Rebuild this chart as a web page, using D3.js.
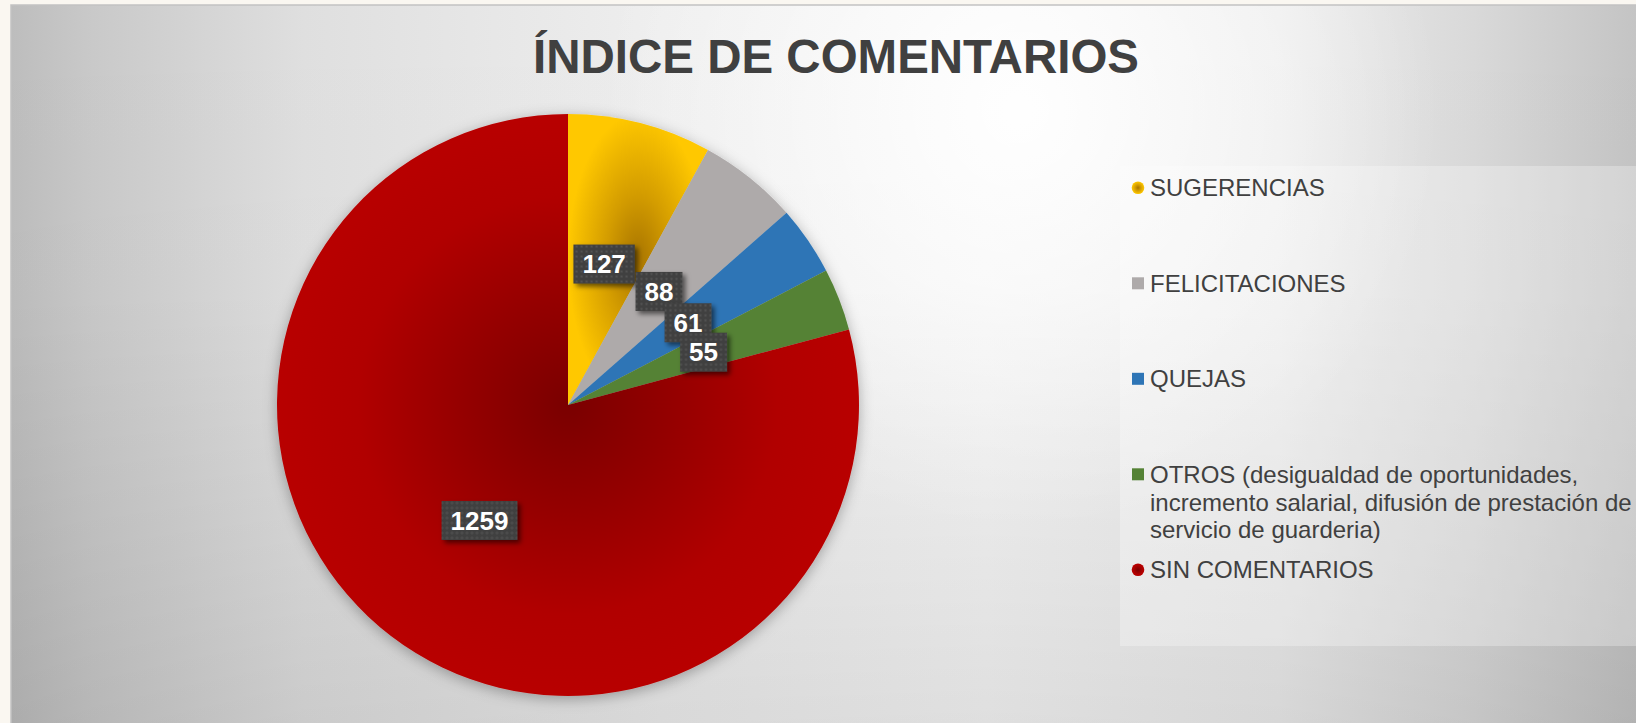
<!DOCTYPE html>
<html><head><meta charset="utf-8">
<script src="https://cdn.jsdelivr.net/npm/d3@7"></script>
<style>html,body{margin:0;padding:0;background:#faf7f1;overflow:hidden}</style>
</head><body><svg id="c" width="1636" height="723"></svg>
<script>
const title = "ÍNDICE DE COMENTARIOS";
const categories = ["SUGERENCIAS", "FELICITACIONES", "QUEJAS",
  "OTROS (desigualdad de oportunidades, incremento salarial, difusión de prestación de servicio de guarderia)",
  "SIN COMENTARIOS"];
const values = [127, 88, 61, 55, 1259];
const colors = ["#ffc000", "#aeaaaa", "#2e75b6", "#548235", "#c00000"];

const W = 1636, H = 723;
const svg = d3.select("#c");
const defs = svg.append("defs");
const FONT = "'Liberation Sans', Arial, sans-serif";

// background gradients
const bgH = defs.append("linearGradient").attr("id", "bgH").attr("x1", 0).attr("x2", 1).attr("y1", 0).attr("y2", 0);
[[0, "#bdbdbd"], [0.05, "#c9c9c9"], [0.18, "#dfdfdf"], [0.4, "#eeeeee"], [0.6, "#f5f5f5"], [0.78, "#ececec"], [0.9, "#d9d9d9"], [1, "#c4c4c4"]]
  .forEach(([o, c]) => bgH.append("stop").attr("offset", o).attr("stop-color", c));
const bgV = defs.append("linearGradient").attr("id", "bgV").attr("x1", 0).attr("x2", 0).attr("y1", 0).attr("y2", 1);
bgV.append("stop").attr("offset", 0).attr("stop-color", "#000").attr("stop-opacity", 0);
bgV.append("stop").attr("offset", 0.4).attr("stop-color", "#000").attr("stop-opacity", 0.01);
bgV.append("stop").attr("offset", 1).attr("stop-color", "#000").attr("stop-opacity", 0.09);
const hl = defs.append("radialGradient").attr("id", "hl").attr("gradientUnits", "userSpaceOnUse")
  .attr("cx", 1020).attr("cy", 110).attr("r", 420);
hl.append("stop").attr("offset", 0).attr("stop-color", "#fff").attr("stop-opacity", 0.95);
hl.append("stop").attr("offset", 1).attr("stop-color", "#fff").attr("stop-opacity", 0);

// slice gradients
const gY = defs.append("radialGradient").attr("id", "gY");
[[0, "#a87400"], [0.45, "#d39c00"], [1, "#ffc800"]].forEach(([o, c]) => gY.append("stop").attr("offset", o).attr("stop-color", c));
const gR = defs.append("radialGradient").attr("id", "gR");
[[0, "#7a0000"], [0.35, "#940000"], [0.72, "#b10000"], [1, "#b80000"]].forEach(([o, c]) => gR.append("stop").attr("offset", o).attr("stop-color", c));
const fills = ["url(#gY)", colors[1], colors[2], colors[3], "url(#gR)"];
const fillScale = d3.scaleOrdinal(categories, fills);

// dotted label pattern
const pat = defs.append("pattern").attr("id", "dots").attr("width", 5).attr("height", 5).attr("patternUnits", "userSpaceOnUse");
pat.append("rect").attr("width", 5).attr("height", 5).attr("fill", "#404040");
pat.append("rect").attr("x", 1.5).attr("y", 1.5).attr("width", 2).attr("height", 2).attr("fill", "#545454");

const sh = defs.append("filter").attr("id", "sh").attr("x", "-30%").attr("y", "-30%").attr("width", "160%").attr("height", "160%");
sh.append("feDropShadow").attr("dx", 3).attr("dy", 3).attr("stdDeviation", 2.5).attr("flood-color", "#000").attr("flood-opacity", 0.55);
const psh = defs.append("filter").attr("id", "psh").attr("x", "-10%").attr("y", "-10%").attr("width", "120%").attr("height", "120%");
psh.append("feDropShadow").attr("dx", 0).attr("dy", 3).attr("stdDeviation", 7).attr("flood-color", "#000").attr("flood-opacity", 0.3);

// chart area
svg.append("rect").attr("width", W).attr("height", H).attr("fill", "#faf7f1");
const ax = 11, ay = 5;
svg.append("rect").attr("x", ax).attr("y", ay).attr("width", W - ax).attr("height", H - ay).attr("fill", "url(#bgH)");
svg.append("rect").attr("x", ax).attr("y", ay).attr("width", W - ax).attr("height", H - ay).attr("fill", "url(#bgV)");
svg.append("rect").attr("x", ax).attr("y", ay).attr("width", W - ax).attr("height", H - ay).attr("fill", "url(#hl)");
svg.append("path").attr("d", `M${ax},${H} V${ay} H${W}`).attr("fill", "none").attr("stroke", "#c2c2c2").attr("stroke-width", 1.5);

// title
svg.append("text").attr("x", 836).attr("y", 73).attr("text-anchor", "middle")
  .attr("font-family", FONT).attr("font-weight", "bold").attr("font-size", 48)
  .attr("fill", "#404040").attr("textLength", 606).attr("lengthAdjust", "spacingAndGlyphs").text(title);

// pie
const cx = 568, cy = 405, R = 291;
const pie = d3.pie().sort(null).value(d => d.v);
const data = categories.map((c, i) => ({ c, v: values[i] }));
const arcs = pie(data);
const arc = d3.arc().innerRadius(0).outerRadius(R);
const g = svg.append("g").attr("transform", `translate(${cx},${cy})`);
const pg = g.append("g").attr("filter", "url(#psh)");
pg.selectAll("path").data(arcs).join("path")
  .attr("d", arc).attr("fill", d => fillScale(d.data.c));

// labels
const lab = g.append("g");
arcs.forEach(d => {
  const [x, y] = arc.centroid(d);
  const gg = lab.append("g").attr("transform", `translate(${x},${y})`);
  const box = gg.append("rect").attr("fill", "url(#dots)").attr("filter", "url(#sh)");
  const t = gg.append("text").attr("text-anchor", "middle").attr("y", 9.3)
    .attr("font-family", FONT).attr("font-weight", "bold").attr("font-size", 26)
    .attr("fill", "#fff").text(d.data.v);
  const tw = t.node().getComputedTextLength();
  const bw = tw + 18, bh = 39;
  box.attr("x", -bw / 2).attr("y", -bh / 2).attr("width", bw).attr("height", bh);
});

// legend
svg.append("rect").attr("x", 1120).attr("y", 166).attr("width", W - 1120).attr("height", 480)
  .attr("fill", "#ffffff").attr("fill-opacity", 0.28);
const lg = svg.append("g");
const maxW = 484;
categories.forEach((c, i) => {
  const yc = 187.8 + i * 95.5;
  const gg = lg.append("g");
  if (i === 0 || i === 4) {
    gg.append("circle").attr("cx", 1138).attr("cy", yc).attr("r", 6.3).attr("fill", fillScale(c));
  } else {
    gg.append("rect").attr("x", 1132).attr("y", yc - 6).attr("width", 12).attr("height", 12).attr("fill", fillScale(c));
  }
  const t = gg.append("text").attr("x", 1150).attr("y", yc + 8.5)
    .attr("font-family", FONT).attr("font-size", 24).attr("fill", "#404040");
  const words = c.split(" ");
  let line = [];
  let ts = t.append("tspan").attr("x", 1150).attr("dy", 0);
  words.forEach(w => {
    line.push(w);
    ts.text(line.join(" "));
    if (ts.node().getComputedTextLength() > maxW && line.length > 1) {
      line.pop();
      ts.text(line.join(" "));
      line = [w];
      ts = t.append("tspan").attr("x", 1150).attr("dy", 27.7).text(w);
    }
  });
});
</script></body></html>
